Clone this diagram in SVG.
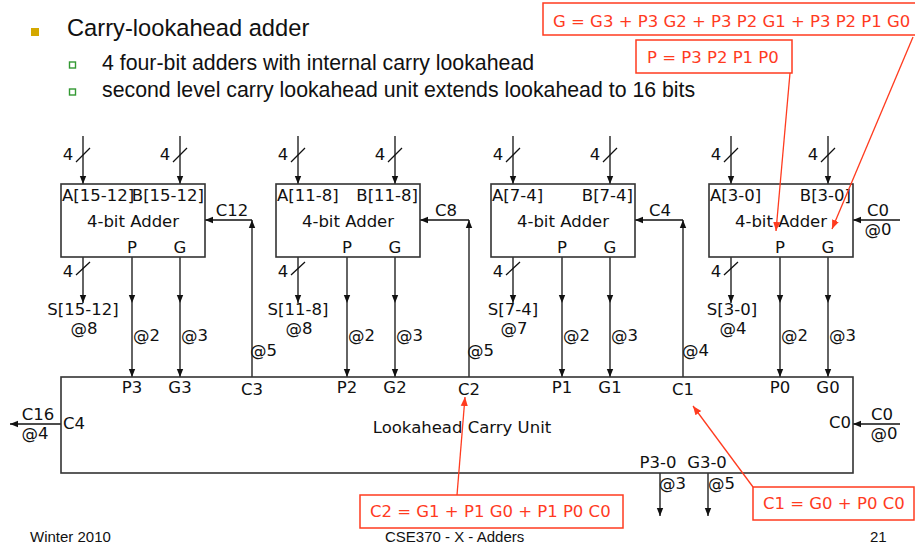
<svg xmlns="http://www.w3.org/2000/svg" width="915" height="546" viewBox="0 0 915 546">
<defs>
<marker id="ah" viewBox="0 0 10 10" refX="10" refY="5" markerWidth="8" markerHeight="8" markerUnits="userSpaceOnUse" orient="auto"><path d="M0,1 L10,5 L0,9 z" fill="#111"/></marker>
<marker id="rah" viewBox="0 0 10 10" refX="10" refY="5" markerWidth="9" markerHeight="9" markerUnits="userSpaceOnUse" orient="auto"><path d="M0,1 L10,5 L0,9 z" fill="#ff3b1f"/></marker>
<style>
.t{font-family:"DejaVu Sans",Verdana,sans-serif;font-size:16.5px;fill:#111}
.m{text-anchor:middle}
.e{text-anchor:end}
.r{font-family:"DejaVu Sans",Verdana,sans-serif;font-size:16.5px;fill:#ff3b1f}
.b{font-family:"Liberation Sans",Arial,sans-serif;fill:#111}
.box{fill:#fff;stroke:#333;stroke-width:1.6}
.rbox{fill:#fff;stroke:#ff3b1f;stroke-width:1.5}
.w{stroke:#111;stroke-width:1.3;fill:none}
.wa{stroke:#111;stroke-width:1.3;fill:none;marker-end:url(#ah)}
.rw{stroke:#ff3b1f;stroke-width:1.3;fill:none;marker-end:url(#rah)}
</style>
</defs>
<rect width="915" height="546" fill="#fff"/>

<g id="bullets">
<rect x="31" y="28" width="8" height="8" fill="#d4a800"/>
<text class="b" x="67" y="36" font-size="23.7">Carry-lookahead adder</text>
<rect x="69.5" y="62" width="6" height="6" fill="none" stroke="#339933" stroke-width="1.4"/>
<text class="b" x="102" y="70" font-size="21.3">4 four-bit adders with internal carry lookahead</text>
<rect x="69.5" y="89" width="6" height="6" fill="none" stroke="#339933" stroke-width="1.4"/>
<text class="b" x="102" y="97" font-size="21.3">second level carry lookahead unit extends lookahead to 16 bits</text>
</g>

<g id="connectors">
<!-- inputs -->
<line class="wa" x1="83" y1="136" x2="83" y2="184"/>
<line class="wa" x1="180" y1="136" x2="180" y2="184"/>
<line class="wa" x1="298" y1="136" x2="298" y2="184"/>
<line class="wa" x1="395" y1="136" x2="395" y2="184"/>
<line class="wa" x1="513" y1="136" x2="513" y2="184"/>
<line class="wa" x1="610" y1="136" x2="610" y2="184"/>
<line class="wa" x1="731" y1="136" x2="731" y2="184"/>
<line class="wa" x1="828" y1="136" x2="828" y2="184"/>
<!-- bus slashes top -->
<path class="w" d="M76,162 L90,148 M173,162 L187,148 M291,162 L305,148 M388,162 L402,148 M506,162 L520,148 M603,162 L617,148 M724,162 L738,148 M821,162 L835,148"/>
<!-- sum outputs -->
<line class="wa" x1="83" y1="257" x2="83" y2="303"/>
<line class="wa" x1="298" y1="257" x2="298" y2="303"/>
<line class="wa" x1="513" y1="257" x2="513" y2="303"/>
<line class="wa" x1="731" y1="257" x2="731" y2="303"/>
<path class="w" d="M76,275 L90,262 M291,275 L305,262 M506,275 L520,262 M724,275 L738,262"/>
<!-- P,G outputs -->
<line class="wa" x1="132" y1="257" x2="132" y2="303"/><line class="wa" x1="132" y1="303" x2="132" y2="377"/>
<line class="wa" x1="180" y1="257" x2="180" y2="303"/><line class="wa" x1="180" y1="303" x2="180" y2="377"/>
<line class="wa" x1="347" y1="257" x2="347" y2="303"/><line class="wa" x1="347" y1="303" x2="347" y2="377"/>
<line class="wa" x1="395" y1="257" x2="395" y2="303"/><line class="wa" x1="395" y1="303" x2="395" y2="377"/>
<line class="wa" x1="562" y1="257" x2="562" y2="303"/><line class="wa" x1="562" y1="303" x2="562" y2="377"/>
<line class="wa" x1="610" y1="257" x2="610" y2="303"/><line class="wa" x1="610" y1="303" x2="610" y2="377"/>
<line class="wa" x1="780" y1="257" x2="780" y2="303"/><line class="wa" x1="780" y1="303" x2="780" y2="377"/>
<line class="wa" x1="828" y1="257" x2="828" y2="303"/><line class="wa" x1="828" y1="303" x2="828" y2="377"/>
<!-- carries into adders -->
<line class="wa" x1="252" y1="377" x2="252" y2="220"/><line class="wa" x1="252" y1="220" x2="205" y2="220"/>
<line class="wa" x1="469" y1="377" x2="469" y2="220"/><line class="wa" x1="469" y1="220" x2="420" y2="220"/>
<line class="wa" x1="683" y1="377" x2="683" y2="220"/><line class="wa" x1="683" y1="220" x2="635" y2="220"/>
<line class="wa" x1="900" y1="220" x2="853" y2="220"/>
<!-- lookahead I/O -->
<line class="wa" x1="61" y1="424" x2="10" y2="424"/>
<line class="wa" x1="900" y1="424" x2="853" y2="424"/>
<line class="wa" x1="660" y1="473" x2="660" y2="516"/>
<line class="wa" x1="708" y1="473" x2="708" y2="516"/>
<!-- connector labels -->
<g class="t">
<text x="68" y="160" class="t m">4</text><text x="165" y="160" class="t m">4</text>
<text x="283" y="160" class="t m">4</text><text x="380" y="160" class="t m">4</text>
<text x="498" y="160" class="t m">4</text><text x="595" y="160" class="t m">4</text>
<text x="716" y="160" class="t m">4</text><text x="813" y="160" class="t m">4</text>
<text x="68" y="277" class="t m">4</text><text x="283" y="277" class="t m">4</text>
<text x="498" y="277" class="t m">4</text><text x="716" y="277" class="t m">4</text>
<text x="83" y="315" class="t m">S[15-12]</text><text x="84" y="334" class="t m">@8</text>
<text x="298" y="315" class="t m">S[11-8]</text><text x="299" y="334" class="t m">@8</text>
<text x="513" y="315" class="t m">S[7-4]</text><text x="514" y="334" class="t m">@7</text>
<text x="732" y="315" class="t m">S[3-0]</text><text x="733" y="334" class="t m">@4</text>
<text x="133" y="341" class="t">@2</text><text x="181" y="341" class="t">@3</text>
<text x="348" y="341" class="t">@2</text><text x="396" y="341" class="t">@3</text>
<text x="563" y="341" class="t">@2</text><text x="611" y="341" class="t">@3</text>
<text x="781" y="341" class="t">@2</text><text x="829" y="341" class="t">@3</text>
<text x="250" y="356" class="t">@5</text>
<text x="467" y="356" class="t">@5</text>
<text x="682" y="356" class="t">@4</text>
<text x="232" y="216" class="t m">C12</text>
<text x="446" y="216" class="t m">C8</text>
<text x="660" y="216" class="t m">C4</text>
<text x="878" y="216" class="t m">C0</text><text x="878" y="235" class="t m">@0</text>
<text x="38" y="420" class="t m">C16</text><text x="35" y="439" class="t m">@4</text>
<text x="882" y="420" class="t m">C0</text><text x="884" y="439" class="t m">@0</text>
<text x="659" y="489" class="t">@3</text>
<text x="708" y="489" class="t">@5</text>
</g>
</g>

<g id="adder-15-12">
<rect class="box" x="61" y="184" width="144" height="73"/>
<text class="t" x="62" y="201">A[15-12]</text>
<text class="t e" x="204" y="201">B[15-12]</text>
<text class="t m" x="133" y="227">4-bit Adder</text>
<text class="t m" x="132" y="253">P</text>
<text class="t m" x="180" y="253">G</text>
</g>
<g id="adder-11-8">
<rect class="box" x="276" y="184" width="144" height="73"/>
<text class="t" x="277" y="201">A[11-8]</text>
<text class="t e" x="418" y="201">B[11-8]</text>
<text class="t m" x="348" y="227">4-bit Adder</text>
<text class="t m" x="347" y="253">P</text>
<text class="t m" x="395" y="253">G</text>
</g>
<g id="adder-7-4">
<rect class="box" x="491" y="184" width="144" height="73"/>
<text class="t" x="492" y="201">A[7-4]</text>
<text class="t e" x="633" y="201">B[7-4]</text>
<text class="t m" x="563" y="227">4-bit Adder</text>
<text class="t m" x="562" y="253">P</text>
<text class="t m" x="610" y="253">G</text>
</g>
<g id="adder-3-0">
<rect class="box" x="709" y="184" width="144" height="73"/>
<text class="t" x="710" y="201">A[3-0]</text>
<text class="t e" x="851" y="201">B[3-0]</text>
<text class="t m" x="781" y="227">4-bit Adder</text>
<text class="t m" x="780" y="253">P</text>
<text class="t m" x="828" y="253">G</text>
</g>

<g id="lookahead-unit">
<rect class="box" x="61" y="377" width="792" height="96" fill="none"/>
<text class="t m" x="132" y="393">P3</text>
<text class="t m" x="180" y="393">G3</text>
<text class="t m" x="252" y="395">C3</text>
<text class="t m" x="347" y="393">P2</text>
<text class="t m" x="395" y="393">G2</text>
<text class="t m" x="469" y="395">C2</text>
<text class="t m" x="562" y="393">P1</text>
<text class="t m" x="610" y="393">G1</text>
<text class="t m" x="683" y="395">C1</text>
<text class="t m" x="780" y="393">P0</text>
<text class="t m" x="828" y="393">G0</text>
<text class="t" x="63" y="429">C4</text>
<text class="t e" x="851" y="428">C0</text>
<text class="t m" x="462" y="433">Lookahead Carry Unit</text>
<text class="t m" x="658" y="468">P3-0</text>
<text class="t m" x="707" y="468">G3-0</text>
</g>

<g id="formula-G">
<rect class="rbox" x="543" y="3" width="375" height="32"/>
<text class="r" x="553" y="27">G = G3 + P3 G2 + P3 P2 G1 + P3 P2 P1 G0</text>
</g>
<g id="formula-P">
<rect class="rbox" x="636" y="40" width="156" height="33"/>
<text class="r" x="647" y="63">P = P3 P2 P1 P0</text>
</g>
<g id="formula-C2">
<rect class="rbox" x="360" y="495" width="263" height="33"/>
<text class="r" x="370" y="517">C2 = G1 + P1 G0 + P1 P0 C0</text>
</g>
<g id="formula-C1">
<rect class="rbox" x="753" y="487" width="161" height="33"/>
<text class="r" x="763" y="509">C1 = G0 + P0 C0</text>
</g>
<g id="annotation-arrows">
<line class="rw" x1="790" y1="73" x2="776" y2="231"/>
<line class="rw" x1="913" y1="37" x2="832" y2="229"/>
<line class="rw" x1="457" y1="495" x2="465" y2="397"/>
<line class="rw" x1="753" y1="487" x2="693" y2="406"/>
</g>

<g id="footer">
<text class="b" x="30" y="542" font-size="15">Winter 2010</text>
<text class="b" x="385" y="542" font-size="15">CSE370 - X - Adders</text>
<text class="b" x="870" y="542" font-size="15">21</text>
</g>
</svg>
